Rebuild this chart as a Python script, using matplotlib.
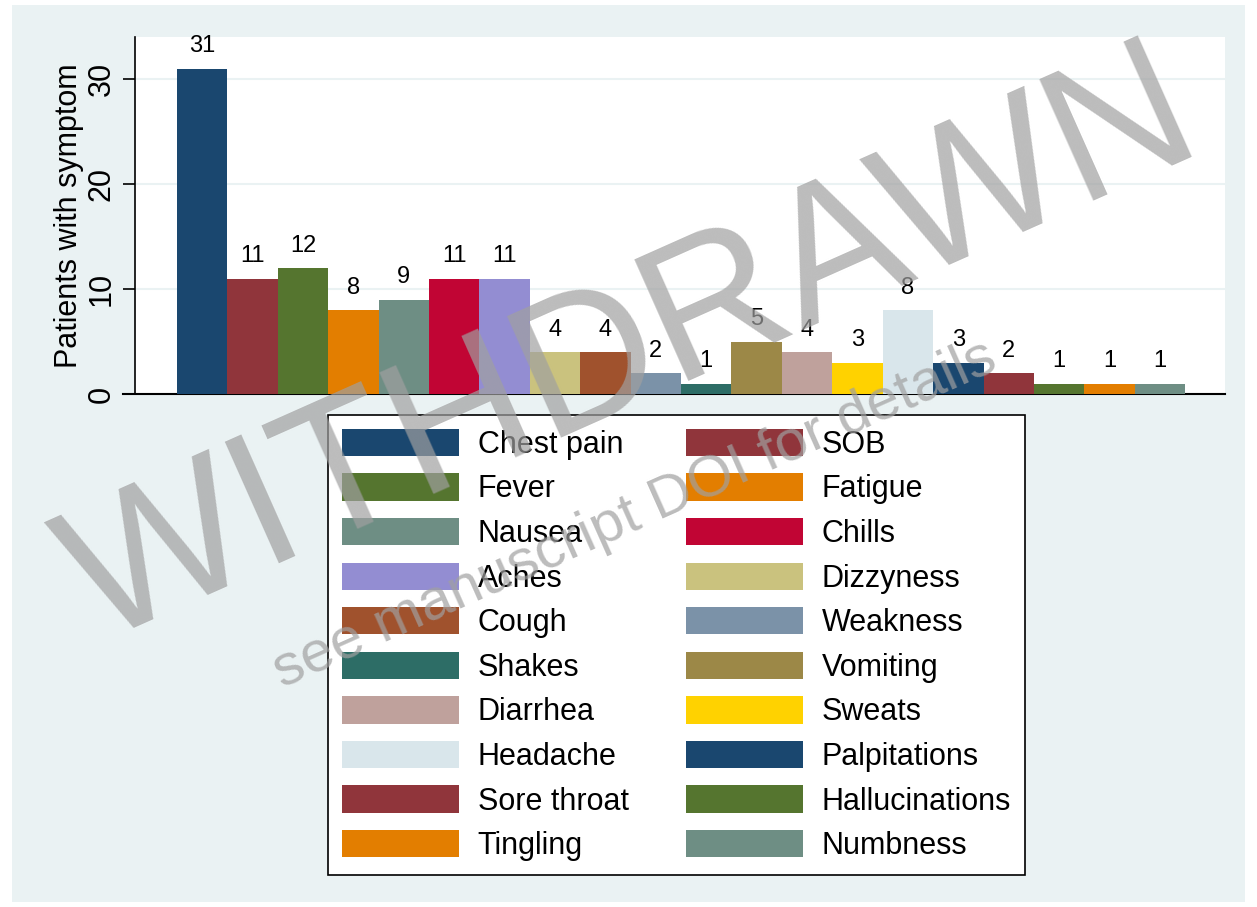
import matplotlib.pyplot as plt
from matplotlib.patches import Rectangle, Patch

plt.rcParams['font.family'] = ['Liberation Sans', 'DejaVu Sans']

# symptoms in bar order
symptoms = ['Chest pain', 'SOB', 'Fever', 'Fatigue', 'Nausea', 'Chills', 'Aches',
            'Dizzyness', 'Cough', 'Weakness', 'Shakes', 'Vomiting', 'Diarrhea',
            'Sweats', 'Headache', 'Palpitations', 'Sore throat', 'Hallucinations',
            'Tingling', 'Numbness']
patients = [31, 11, 12, 8, 9, 11, 11, 4, 4, 2, 1, 5, 4, 3, 8, 3, 2, 1, 1, 1]

# Stata s2color palette
palette = ['#1a476f', '#90353b', '#55752f', '#e37e00', '#6e8e84', '#c10534',
           '#938dd2', '#cac27e', '#a0522d', '#7b92a8', '#2d6d66', '#9c8847',
           '#bfa19c', '#ffd200', '#d9e6eb']
colors = [palette[i % len(palette)] for i in range(len(symptoms))]

fig = plt.figure(figsize=(12.57, 9.07), dpi=100, facecolor='white')
fig.patches.append(Rectangle((12 / 1257, 5 / 907), 1233 / 1257, 897 / 907,
                             transform=fig.transFigure, facecolor='#eaf2f3',
                             edgecolor='none', zorder=-10))

ax = fig.add_axes([135 / 1257, 1 - 394 / 907, 1090 / 1257, 357 / 907])
ax.set_facecolor('white')

x = list(range(len(symptoms)))
bars = ax.bar(x, patients, width=1.0, color=colors, edgecolor='none', zorder=3)
ax.bar_label(bars, labels=[str(v) for v in patients], padding=8, fontsize=17)

ax.set_xlim(-1.33, 20.29)
ax.set_ylim(0, 34)
ax.set_yticks([0, 10, 20, 30])
ax.set_xticks([])
ax.grid(axis='y', color='#eaf2f3', linewidth=1.5, zorder=0)
ax.tick_params(axis='y', length=9, width=1.2, pad=4, labelsize=22,
               labelrotation=90)
for lbl in ax.get_yticklabels():
    lbl.set_va('center')
ax.set_ylabel('Patients with symptom', fontsize=22, labelpad=2)

for side in ['top', 'right']:
    ax.spines[side].set_visible(False)
ax.spines['left'].set_linewidth(1.2)
ax.spines['bottom'].set_linewidth(1.5)
ax.spines['bottom'].set_bounds(-1.57, 20.29)
ax.spines['bottom'].set_clip_on(False)

# legend: row-wise order in two columns
handles = [Patch(facecolor=c, edgecolor='none') for c in colors]
order = list(range(0, 20, 2)) + list(range(1, 20, 2))
leg = fig.legend([handles[i] for i in order], [symptoms[i] for i in order],
                 ncol=2, loc='upper left',
                 bbox_to_anchor=(328 / 1257, 1 - 415 / 907), borderaxespad=0,
                 fontsize=22, frameon=True, fancybox=False, framealpha=1,
                 handlelength=3.85, handleheight=1.0, handletextpad=0.6,
                 columnspacing=1.86, labelspacing=0.44, borderpad=0.45)
leg.get_frame().set_edgecolor('black')
leg.get_frame().set_facecolor('white')
leg.get_frame().set_linewidth(1.2)

# watermark
fig.text(632 / 1257, 1 - 352 / 907, 'WITHDRAWN', fontsize=139, color='#a0a0a0',
         alpha=0.7, rotation=24, ha='center', va='center', zorder=20)
fig.text(635 / 1257, 1 - 515 / 907, 'see manuscript DOI for details', fontsize=42,
         color='#a0a0a0', alpha=0.7, rotation=24, ha='center', va='center',
         zorder=20)

fig.savefig('out.png', dpi=100, facecolor=fig.get_facecolor())
